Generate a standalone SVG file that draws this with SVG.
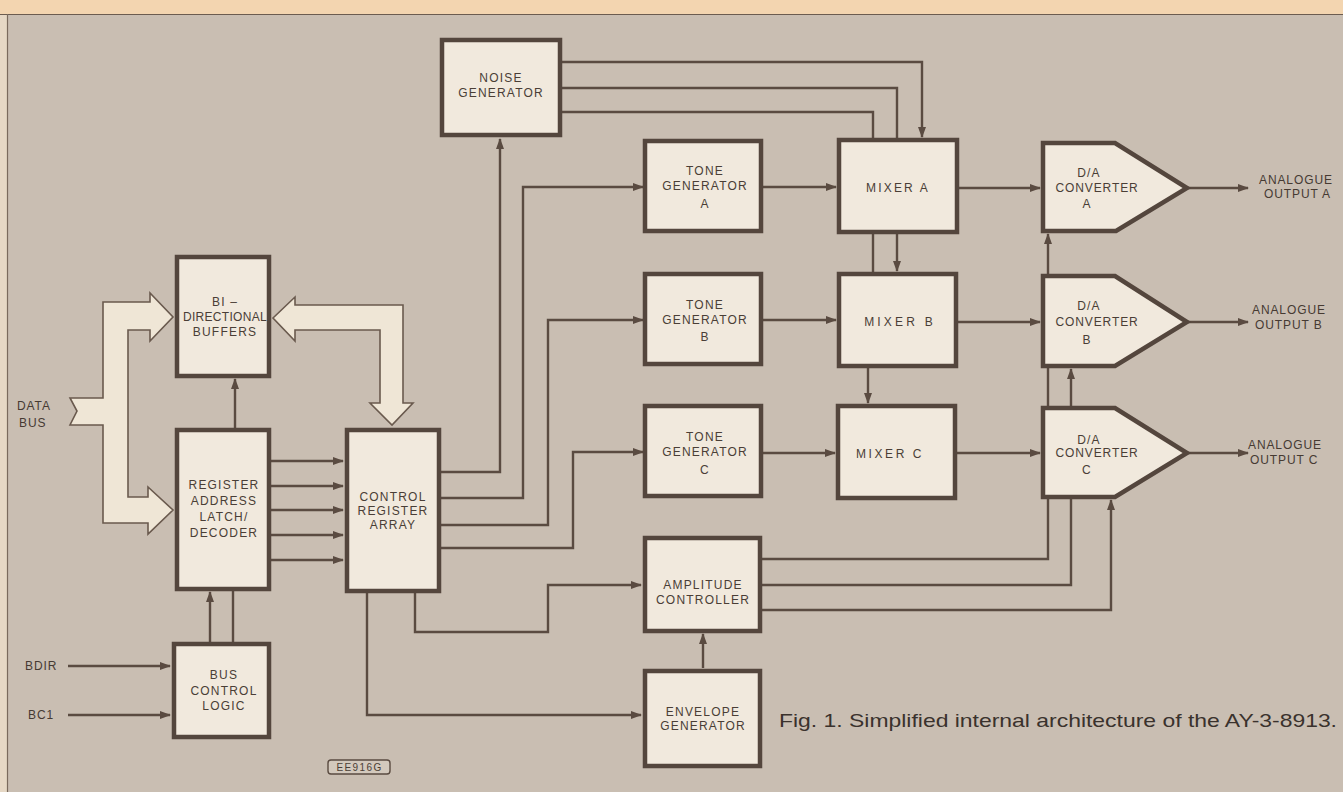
<svg xmlns="http://www.w3.org/2000/svg" width="1343" height="792" viewBox="0 0 1343 792">
<style>
.bg{fill:#c9beb2}
.box{fill:#f1e9dd;stroke:#54463d;stroke-width:4.5}
.bus{fill:#efe6d6;stroke:#6a5a4e;stroke-width:1.6;stroke-linejoin:miter}
.t{font-family:"Liberation Sans",Arial,sans-serif;font-size:12px;fill:#4a3e36;text-anchor:middle;letter-spacing:1.2px}
.lbl{font-family:"Liberation Sans",Arial,sans-serif;font-size:12px;fill:#463a32;letter-spacing:0.9px}
.cap{font-family:"Liberation Sans",Arial,sans-serif;font-size:18.5px;fill:#3a322d}
#connectors path{fill:none;stroke:#5a4b41;stroke-width:2.4}
</style>
<defs>
<marker id="ah" markerWidth="11" markerHeight="8" refX="10" refY="4" orient="auto" markerUnits="userSpaceOnUse">
<path d="M0,0 L11,4 L0,8 Z" fill="#5a4b41"/>
</marker>
</defs>
<rect class="bg" x="0" y="0" width="1343" height="792"/>
<rect x="0" y="0" width="1343" height="14" fill="#f3d5b0"/>
<rect x="0" y="14" width="7" height="778" fill="#e6d8c5"/>
<line x1="0" y1="14.5" x2="1343" y2="14.5" stroke="#6b5c50" stroke-width="1.2"/>
<line x1="7.5" y1="14" x2="7.5" y2="792" stroke="#7a6a5d" stroke-width="1.2"/>

<g id="connectors">
<path d="M440,472 H500 V139" marker-end="url(#ah)"/>
<path d="M440,498 H523 V187 H643" marker-end="url(#ah)"/>
<path d="M440,525 H548 V320 H643" marker-end="url(#ah)"/>
<path d="M440,548 H573 V452 H643" marker-end="url(#ah)"/>
<path d="M415,592 V632 H548 V585 H641" marker-end="url(#ah)"/>
<path d="M367,592 V715 H641" marker-end="url(#ah)"/>
<path d="M703,668 V634" marker-end="url(#ah)"/>
<path d="M762,187 H836" marker-end="url(#ah)"/>
<path d="M762,320 H836" marker-end="url(#ah)"/>
<path d="M762,453 H835" marker-end="url(#ah)"/>
<path d="M562,62 H922 V137" marker-end="url(#ah)"/>
<path d="M562,88 H897 V139"/>
<path d="M562,112 H873 V139"/>
<path d="M873,233 V273"/>
<path d="M897,233 V271" marker-end="url(#ah)"/>
<path d="M868,367 V403" marker-end="url(#ah)"/>
<path d="M958,188 H1040" marker-end="url(#ah)"/>
<path d="M957,322 H1040" marker-end="url(#ah)"/>
<path d="M956,453 H1040" marker-end="url(#ah)"/>
<path d="M1188,188 H1248" marker-end="url(#ah)"/>
<path d="M1188,322 H1248" marker-end="url(#ah)"/>
<path d="M1188,453 H1248" marker-end="url(#ah)"/>
<path d="M760,559 H1048 V498"/>
<path d="M1048,407 V367"/>
<path d="M1048,275 V234" marker-end="url(#ah)"/>
<path d="M760,585 H1071 V498"/>
<path d="M1071,407 V369" marker-end="url(#ah)"/>
<path d="M760,610 H1111 V500" marker-end="url(#ah)"/>
<path d="M235,428 V379" marker-end="url(#ah)"/>
<path d="M270,461 H343" marker-end="url(#ah)"/>
<path d="M270,486 H343" marker-end="url(#ah)"/>
<path d="M270,510 H343" marker-end="url(#ah)"/>
<path d="M270,535 H343" marker-end="url(#ah)"/>
<path d="M270,560 H343" marker-end="url(#ah)"/>
<path d="M210,642 V592" marker-end="url(#ah)"/>
<path d="M233,642 V590"/>
<path d="M68,666 H170" marker-end="url(#ah)"/>
<path d="M68,715 H170" marker-end="url(#ah)"/>
</g>

<g id="databus">
<polygon class="bus" points="103,302 150,302 150,293 173,317 150,341 150,330 128,330 128,497 148,497 148,487 173,510 148,534 148,523 103,523 103,425 70,425 77,411 70,398 103,398"/>
<text class="lbl" x="17" y="410">DATA</text>
<text class="lbl" x="19" y="427">BUS</text>
</g>
<g id="internalbus">
<polygon class="bus" points="273,318 295,297 295,305 403,305 403,403 413,403 392,425 370,403 380,403 380,330 295,330 295,341"/>
</g>

<g id="noise">
<rect class="box" x="442" y="40" width="118" height="95"/>
<text class="t" x="501" y="82">NOISE</text>
<text class="t" x="501" y="97">GENERATOR</text>
</g>
<g id="buffers">
<rect class="box" x="177" y="257" width="92" height="119"/>
<text class="t" x="225" y="306">BI –</text>
<text class="t" x="225" y="321" style="letter-spacing:0.3px">DIRECTIONAL</text>
<text class="t" x="225" y="336">BUFFERS</text>
</g>
<g id="register">
<rect class="box" x="177" y="430" width="92" height="159"/>
<text class="t" x="224" y="489">REGISTER</text>
<text class="t" x="224" y="505">ADDRESS</text>
<text class="t" x="224" y="521">LATCH/</text>
<text class="t" x="224" y="537">DECODER</text>
</g>
<g id="busctrl">
<rect class="box" x="174" y="644" width="95" height="93"/>
<text class="t" x="224" y="679">BUS</text>
<text class="t" x="224" y="695">CONTROL</text>
<text class="t" x="224" y="710">LOGIC</text>
</g>
<g id="cra">
<rect class="box" x="347" y="430" width="92" height="161"/>
<text class="t" x="393" y="501">CONTROL</text>
<text class="t" x="393" y="515">REGISTER</text>
<text class="t" x="393" y="529">ARRAY</text>
</g>
<g id="toneA">
<rect class="box" x="645" y="141" width="116" height="90"/>
<text class="t" x="705" y="175">TONE</text>
<text class="t" x="705" y="190">GENERATOR</text>
<text class="t" x="705" y="208">A</text>
</g>
<g id="toneB">
<rect class="box" x="645" y="274" width="116" height="90"/>
<text class="t" x="705" y="309">TONE</text>
<text class="t" x="705" y="324">GENERATOR</text>
<text class="t" x="705" y="341">B</text>
</g>
<g id="toneC">
<rect class="box" x="645" y="406" width="116" height="90"/>
<text class="t" x="705" y="441">TONE</text>
<text class="t" x="705" y="456">GENERATOR</text>
<text class="t" x="705" y="474">C</text>
</g>
<g id="amp">
<rect class="box" x="645" y="538" width="115" height="93"/>
<text class="t" x="703" y="589">AMPLITUDE</text>
<text class="t" x="703" y="604">CONTROLLER</text>
</g>
<g id="env">
<rect class="box" x="645" y="671" width="115" height="95"/>
<text class="t" x="703" y="716">ENVELOPE</text>
<text class="t" x="703" y="730">GENERATOR</text>
</g>
<g id="mixerA">
<rect class="box" x="839" y="140" width="118" height="92"/>
<text class="t" x="898" y="192" style="letter-spacing:2.2px">MIXER A</text>
</g>
<g id="mixerB">
<rect class="box" x="839" y="274" width="117" height="92"/>
<text class="t" x="900" y="326" style="letter-spacing:3.2px">MIXER B</text>
</g>
<g id="mixerC">
<rect class="box" x="838" y="406" width="117" height="92"/>
<text class="t" x="890" y="458" style="letter-spacing:2.6px">MIXER C</text>
</g>
<g id="daA">
<path class="box" d="M1043,143 H1115 L1187,188 L1116,231 H1043 Z"/>
<text class="t" x="1089" y="177">D/A</text>
<text class="t" x="1097" y="192" style="letter-spacing:0.9px">CONVERTER</text>
<text class="t" x="1087" y="208">A</text>
</g>
<g id="daB">
<path class="box" d="M1043,276 H1115 L1187,322 L1115,366 H1043 Z"/>
<text class="t" x="1089" y="310">D/A</text>
<text class="t" x="1097" y="326" style="letter-spacing:0.9px">CONVERTER</text>
<text class="t" x="1087" y="344">B</text>
</g>
<g id="daC">
<path class="box" d="M1043,408 H1115 L1187,453 L1115,497 H1043 Z"/>
<text class="t" x="1089" y="444">D/A</text>
<text class="t" x="1097" y="457" style="letter-spacing:0.9px">CONVERTER</text>
<text class="t" x="1087" y="474">C</text>
</g>

<g id="outputs">
<text class="lbl" x="1259" y="184">ANALOGUE</text>
<text class="lbl" x="1264" y="198">OUTPUT A</text>
<text class="lbl" x="1252" y="314">ANALOGUE</text>
<text class="lbl" x="1255" y="329">OUTPUT B</text>
<text class="lbl" x="1248" y="449">ANALOGUE</text>
<text class="lbl" x="1250" y="464">OUTPUT C</text>
<text class="lbl" x="25" y="670">BDIR</text>
<text class="lbl" x="28" y="719">BC1</text>
</g>

<g id="ref">
<rect x="328" y="760" width="62" height="14" rx="3" fill="#d3c9bd" stroke="#5a4b41" stroke-width="1.4"/>
<text class="t" x="359.5" y="771" style="font-size:10px;letter-spacing:1.4px">EE916G</text>
</g>
<text class="cap" x="779" y="727" textLength="558" lengthAdjust="spacingAndGlyphs">Fig. 1. Simplified internal architecture of the AY-3-8913.</text>
</svg>
